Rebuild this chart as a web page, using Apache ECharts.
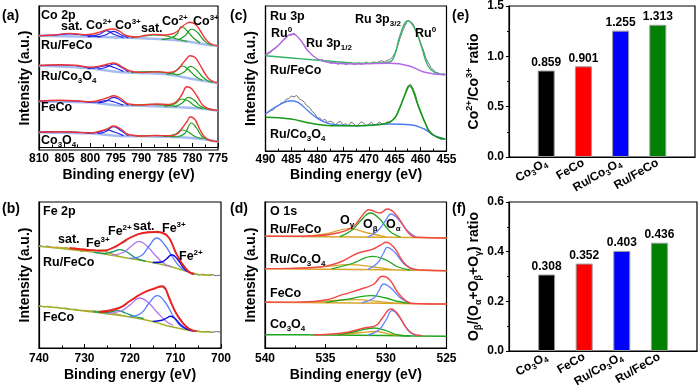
<!DOCTYPE html>
<html><head><meta charset="utf-8">
<script src="https://cdn.jsdelivr.net/npm/echarts/dist/echarts.min.js"></script>
<style>html,body{margin:0;padding:0;background:#fff}#c{width:700px;height:392px}</style>
</head><body><div id="c"></div>
<script>
// ---------- (a) Co 2p : [binding energy eV, intensity a.u.] ----------
const coBg1=[[810,111.3],[805,110.8],[800,110.3],[795,109.6],[790,108.7],[785,107.5],[781,105.5],[778,103],[776.5,101.7],[775,101]];
const coEnv1=[[810,111.3],[807,112],[804,113.6],[801,112.4],[799.5,113],[798,115.2],[796.5,117.5],[795.5,118],[794.3,115.8],[793,111.5],[791,110],[789,111.7],[787.5,112.6],[785.5,112],[784,113],[783,115.5],[782,120.5],[781,124],[780.5,124.7],[779.5,123],[778.5,116.5],[777.5,108.5],[776.5,103.5],[775,101.2]];
const coSatB1=[[810,111.3],[807,111.9],[804,113.2],[801,111.8],[798,110.2]];
const coB2_1=[[800.5,110.2],[798.3,112.5],[796.8,116.3],[795.3,112.5],[793.5,109.4]];
const coB3_1=[[798.5,110.1],[797,112],[795.4,115.7],[794,112.3],[792.5,109.1]];
const coSatG1=[[792,109.1],[789.5,111],[787.4,112],[785,111],[783,108],[781,105.5]];
const coG2_1=[[786,107.3],[784,109.5],[783,113],[782.1,120.3],[781,116],[780,110],[778.5,104]];
const coG3_1=[[783,106.8],[781.5,111],[780.1,118],[779,114.5],[778,108],[777,103.5],[776,101.8]];

const coBg2=[[810,81.3],[805,80.2],[800,78.7],[795,75.3],[790,74],[785,72.7],[780,68],[777,65.5],[775,63.7]];
const coEnv2=[[810,81.5],[806,82.2],[803,81.7],[800,79.8],[798,81],[796.5,83],[795.4,84],[794,81],[792.5,76.5],[790,74.5],[787,75.2],[784.5,74.5],[783,77],[782,83],[781,89],[780.5,91.3],[779.5,89.5],[778.5,82],[777.5,73],[776.5,67],[775,64]];
const coSatB2=[[810,81.3],[806,82],[803,81.5],[800,78.9]];
const coB2_2=[[800.5,78.4],[798.5,79.5],[796.8,81.3],[795.3,79.5],[793.5,75.6]];
const coB3_2=[[798.5,77.8],[797,79.5],[795.4,83],[794,80],[792.5,75]];
const coSatG2=[[792,74.4],[788,75.3],[785,74.2],[783,72.3]];
const coG2_2=[[785,72.7],[783.5,75],[782,81],[780.8,77.5],[779.5,71],[778,66.5]];
const coG3_2=[[783,71.8],[781.6,75],[780.4,80.7],[779.2,77],[778,70],[777,66.2],[776,64.5]];

const coBg3=[[810,45.7],[805,45.2],[800,44.7],[795,41.8],[790,41.3],[785,40.3],[780,39],[777,37.8],[775,36.3]];
const coEnv3=[[810,46],[806,46.7],[803,46.3],[800,45.2],[798,47],[796.5,49.5],[795.4,51.3],[794,48.5],[792.5,43],[790,42],[787,43],[784.5,42.5],[783,46],[782,53],[781.1,60.3],[780.2,58.5],[779,50],[778,42],[777,38.5],[775,36.5]];
const coSatB3=[[810,45.8],[806,46.5],[803,46],[800,44.8]];
const coB2_3=[[800.5,44.6],[798.5,45],[796.8,46.5],[795.3,45],[793.5,41.8]];
const coB3_3=[[798.5,44.2],[797,45.5],[795.4,49.7],[794,46.5],[792.5,41.6]];
const coSatG3=[[792,41.6],[788,42.7],[785,41.6],[783,40.6]];
const coG2_3=[[785.5,40.5],[783.5,43],[782.1,48],[780.8,46],[779.5,41],[778,38.2]];
const coG3_3=[[783.5,40],[782,44],[780.8,49.7],[779.7,47],[778.5,41],[777.2,38],[776,37]];

const coBg4=[[810,14.7],[805,14.2],[800,13.7],[795,11.3],[790,10.7],[785,10.3],[780,9],[777,7.3],[775,5.3]];
const coEnv4=[[810,14.8],[806,15.3],[803,14.8],[800,14],[798,16],[796.5,18.5],[795.4,21],[794,18],[792.5,12.5],[790,11],[787,11.5],[784.5,11.2],[783,13],[782,19],[781,26],[780.4,30.3],[779.5,27.5],[778.5,17],[777.5,9.5],[776.5,6.5],[775,5.5]];
const coSatB4=[[810,14.8],[806,15.3],[803,15],[800,13.8]];
const coB2_4=[[800.5,13.8],[798.5,14.6],[796.8,17],[795.3,15],[793.5,11.4]];
const coB3_4=[[798.5,13.5],[797,15.2],[795.4,20.3],[794,16.5],[792.5,11.1]];
const coSatG4=[[791,10.8],[787.5,11.5],[784.5,10.6],[783,10]];
const coG2_4=[[785.5,10.3],[783.5,12.5],[782,17],[780.8,15],[779.5,10.5],[778,8.3]];
const coG3_4=[[783,10.2],[781.5,13.5],[780.2,24],[779.2,19],[778.2,11],[777,7.4],[776,6]];

// ---------- (b) Fe 2p ----------
const feRaw1=[[740,102.5],[739,101.4],[738,101.9],[737,100.2],[736,100.8],[735,99.6],[734,100.3],[733,98.9],[732,99.8],[731,98.2],[730,98.9],[729,97.5],[728,98.3],[727,97.0],[726,97.8],[725,97.4],[724,99.9],[723,101.3],[722,104.2],[721,106.3],[720,110.4],[719,112.0],[718,114.1],[717,114.8],[716,116.2],[715,115.6],[714,116.9],[713,115.3],[712,114.0],[711,107.5],[710,96.5],[709,87.2],[708,81.8],[707,75.9],[706,74.3],[705,73.0],[704,73.8],[703,72.6],[702,73.4],[701,72.3],[700,73.0]];
const feBg1=[[740,101.7],[735,99.5],[730,97],[725,93.5],[720,89.5],[715,85.5],[711.4,81.7],[707.7,76.7],[705,73.5],[702,72.8]];
const feEnv1=[[733.3,100],[729.7,98.3],[726,97.3],[723.1,101.7],[720.1,110],[717.2,115],[714.3,116],[712.8,115],[711.4,110],[709.9,95],[708.4,83.3],[707,76],[705.9,74]];
const feSat1a=[[738,100.9],[735,100.3],[732.5,99.2],[730,97.2]];
const feOl1=[[731,96.8],[728.5,97.5],[726.5,97.8],[724.5,95],[722,91]];
const feG1=[[728,95.8],[725.5,94.5],[724,96],[722.2,98.3],[720.5,95.5],[718.7,90],[716.5,86.6]];
const feP1=[[724,92.9],[721.5,95.5],[719.8,101.5],[718,106.7],[716.3,102],[714.5,93],[712.5,84.5],[711,81.5]];
const feLB1=[[720,89.6],[717.5,92.5],[715.8,102],[714.1,110],[712.5,104],[710.8,92],[709,81],[707.5,76.5]];
const feDB1=[[715,85.5],[713,86],[712,89],[710.8,93.3],[709.6,89],[708.3,80.5],[707,75.5],[706,74]];

const feRaw2=[[740,42.3],[739,41.2],[738,41.7],[737,40.4],[736,40.8],[735,39.5],[734,39.9],[733,38.5],[732,38.8],[731,37.3],[730,37.7],[729,36.4],[728,37.0],[727,36.0],[726,36.7],[725,36.6],[724,38.3],[723,39.1],[722,41.3],[721,43.4],[720,47.1],[719,49.3],[718,52.8],[717,55.0],[716,57.6],[715,58.6],[714,60.7],[713,61.4],[712,57.8],[711,46.5],[710,35.6],[709,29.6],[708,23.3],[707,19.7],[706,17.2],[705,17.0],[704,16.1],[703,16.6],[702,15.7],[701,16.4],[700,15.9]];
const feBg2=[[740,41.7],[735,39.8],[730,37],[725,34.3],[720,31],[715,26.5],[711.4,21.7],[707.7,18.3],[705,16.5],[702,16]];
const feEnv2=[[726.8,36],[722.4,40],[720.1,46.7],[717.2,55],[714.3,60],[713,61.7],[712.3,60],[711.4,50],[709.9,35],[708.4,25],[707,19],[705.4,16.7]];
const feOl2=[[731,37.6],[728,36.8],[725.5,36.6],[723.5,34.5],[721,32]];
const feG2=[[728,36.3],[725.5,35.3],[724,36.3],[722.7,37.3],[721,35],[719,31.5],[717,29.5]];
const feP2=[[725,34.4],[722,37],[720,43],[717.9,50],[716,45.5],[714,35.5],[712,26.5],[710.5,22.5]];
const feLB2=[[720,31.2],[717.5,35],[715.8,45],[714,52.3],[712.3,46],[710.5,32],[709,22.5],[707.5,18.5]];
const feDB2=[[715,26.6],[713,27.8],[712,29.8],[711.1,31.7],[710,29],[708.8,23],[707.5,18.8],[706,17]];

// ---------- (c) Ru 3p ----------
const ruRaw1=[[490,95.5],[489.5,97.2],[489,98.4],[488.5,101.3],[488,102.6],[487.5,105.4],[487,107.8],[486.5,110.9],[486,112.9],[485.5,116.1],[485,115.6],[484.5,118.0],[484,115.4],[483.5,112.6],[483,109.6],[482.5,106.2],[482,101.8],[481.5,98.7],[481,95.6],[480.5,94.2],[480,91.8],[479.5,90.4],[479,91.6],[478.5,89.2],[478,89.9],[477.5,87.8],[477,88.9],[476.5,88.1],[476,86.6],[475.5,88.4],[475,87.9],[474.5,86.3],[474,87.5],[473.5,88.6],[473,86.4],[472.5,87.0],[472,88.3],[471.5,86.7],[471,87.2],[470.5,88.9],[470,87.1],[469.5,88.0],[469,89.2],[468.5,87.9],[468,89.4],[467.5,90.3],[467,88.8],[466.5,90.6],[466,91.3],[465.5,93.5],[465,97.8],[464.5,104.0],[464,112.5],[463.5,119.8],[463,125.5],[462.5,130.5],[462,129.3],[461.5,127.5],[461,121.0],[460.5,115.8],[460,108.0],[459.5,101.5],[459,93.0],[458.5,88.2],[458,83.5],[457.5,80.8],[457,78.4],[456.5,77.9],[456,76.5],[455.5,77.3],[455,75.8]];
const ruP1=[[490,96.5],[487.6,105.3],[485.7,115.3],[484.7,117],[483.4,112],[481.8,100.3],[479.9,92],[477.3,88],[472.1,87],[465.9,87.7],[462.4,85.3],[459.2,78.7],[455.3,76.3]];
const ruG1=[[490,95.3],[485,93],[481,91.2],[478.6,90.3],[475,88.7],[472.1,87.7],[468,88],[466,89],[465,96],[464,115.3],[462.4,130.3],[461.1,122],[459.8,103.7],[458.6,85.3],[457.3,78.7],[455.3,76.3]];
const ruRaw2=[[490,37.0],[489.5,38.6],[489,40.3],[488.5,41.2],[488,44.0],[487.5,45.3],[487,47.9],[486.5,48.6],[486,51.8],[485.5,52.4],[485,55.0],[484.5,54.1],[484,55.6],[483.5,52.3],[483,50.8],[482.5,48.9],[482,45.2],[481.5,43.8],[481,39.7],[480.5,37.6],[480,33.2],[479.5,33.0],[479,30.5],[478.5,31.8],[478,28.4],[477.5,29.9],[477,28.8],[476.5,26.1],[476,28.6],[475.5,29.7],[475,26.0],[474.5,27.4],[474,25.2],[473.5,28.9],[473,27.7],[472.5,24.8],[472,26.5],[471.5,29.2],[471,27.9],[470.5,25.3],[470,26.9],[469.5,28.7],[469,25.6],[468.5,26.8],[468,29.0],[467.5,27.2],[467,26.4],[466.5,29.3],[466,28.1],[465.5,30.4],[465,32.5],[464.5,38.0],[464,43.5],[463.5,50.2],[463,56.5],[462.5,62.0],[462,67.0],[461.5,63.0],[461,56.5],[460.5,46.0],[460,39.5],[459.5,31.5],[459,27.0],[458.5,21.0],[458,18.5],[457.5,16.0],[457,14.2],[456.5,13.0],[456,11.5],[455.5,12.6],[455,11.0]];
const ruB2=[[490,37],[487.6,45.3],[485.1,50.3],[483.7,48.7],[481.8,40.3],[479.2,30.3],[476.6,26.3],[472.1,25.3],[465.9,27],[462,26.3],[459.3,22],[457.3,15.3],[455.3,12]];
const ruG2=[[490,33.7],[485.1,32],[481.2,27.7],[477.3,25.3],[472.1,25.3],[467.2,27],[465.2,32],[464,43.7],[463,57],[462.2,65.3],[461.6,62],[460.6,47],[459.3,30.3],[458.2,18.7],[456.8,13.7],[455.3,12]];

// ---------- (d) O 1s ----------
const oBg1=[[540,111.7],[535,111.3],[530,110.8],[525,110]];
const oEnv1=[[540,111.7],[536,112],[534,115],[532.7,121.7],[532,131.7],[531.4,138.3],[530.5,135],[529.9,139],[529.3,135],[528.6,123.3],[528,113.3],[527.5,110.7],[525,110]];
const oGam1=[[537,111.5],[535,114],[533,119.3],[531.5,115],[530,111.2]];
const oBeta1=[[533.8,111.3],[532.8,118],[532,128.5],[531.3,135],[530.6,130],[530,121],[529.5,115],[528.8,111]];
const oAlp1=[[531.5,111],[530.7,117],[530,128],[529.6,134],[529,129],[528.3,118],[527.5,110.6]];
const oBg2=[[540,79.3],[535,78.8],[530,78.2],[525,77.3]];
const oEnv2=[[540,79.4],[538,79.6],[536,80.5],[534,85],[532.3,95],[531.2,98.3],[530.4,103.3],[530,105.7],[529.3,100],[528.7,88.3],[528,80],[527,78],[525,77.3]];
const oGam2=[[538,79.3],[535.5,80.8],[533,83.3],[531,81],[529.5,78.4]];
const oBeta2=[[534.5,79.2],[532.8,84.5],[531.1,91.7],[530,88],[529,81],[528,78]];
const oAlp2=[[531.5,78.6],[530.7,85],[530.2,95],[529.9,100.7],[529.3,96],[528.5,84],[527.7,78]];
const oBg3=[[540,45.7],[535,45.3],[530,44.7],[525,44]];
const oEnv3=[[540,45.8],[537,46],[535,48],[533.6,53.3],[531.8,60],[531,64],[530.3,71.7],[529.7,68.3],[529,55],[528.3,46.7],[527.7,44.5],[525,44]];
const oGam3=[[537,45.6],[534.5,47.3],[532.5,48.3],[530.5,46.3],[529,44.7]];
const oBeta3=[[535,45.6],[533,49.2],[531.3,52.3],[530,50],[529,46.5],[528,44.6]];
const oAlp3=[[532,45.2],[531,50],[530.6,57],[530.2,64],[529.6,60],[528.8,50],[528,45]];
const oBg4=[[540,13.3],[535,13],[530,12.4],[525,11.7]];
const oEnv4=[[536,13.2],[533.6,15],[531.8,20],[530.8,22.7],[530.3,30],[529.6,39],[529.1,35],[528.4,21.7],[527.9,15],[527,12.3]];
const oGam4=[[534,13],[532,15.5],[531,16.5],[529.5,13.5],[528.5,12.3]];
const oBeta4=[[534,13],[532.5,16.5],[531,20],[530,17.5],[529,13],[528,12]];
const oAlp4=[[531.5,12.8],[530.6,18],[530,28],[529.5,37.3],[528.9,31],[528.2,18],[527.5,12.3]];

// ---------- (e),(f) bars ----------
const barCats=['Co3O4','FeCo','Ru/Co3O4','Ru/FeCo'];
const coRatio=[0.859,0.901,1.255,1.313];
const oRatio=[0.308,0.352,0.403,0.436];
const barColors=['#000000','#ff0000','#0000ff','#008000'];
const coTicks=[0,0.5,1.0,1.5];
const oTicks=[0,0.2,0.4,0.6];

const F='"Liberation Sans", Arial, Helvetica, sans-serif';
function L(g,data,color,w,opt){return Object.assign({type:'line',xAxisIndex:g,yAxisIndex:g,data:data,smooth:0.45,symbol:'none',silent:true,lineStyle:{color:color,width:w},itemStyle:{color:color},z:2},opt||{});}
function R(g,data,color){return L(g,data,color,0.9,{smooth:false,z:1});}

const series=[];
// (a)
const A={bg:'#a7bdf0',r:'#f03535',g:'#1f9f1f',b:'#2424e6'};
[[coBg1,coSatB1,coB2_1,coB3_1,coSatG1,coG2_1,coG3_1,coEnv1],
 [coBg2,coSatB2,coB2_2,coB3_2,coSatG2,coG2_2,coG3_2,coEnv2],
 [coBg3,coSatB3,coB2_3,coB3_3,coSatG3,coG2_3,coG3_3,coEnv3],
 [coBg4,coSatB4,coB2_4,coB3_4,coSatG4,coG2_4,coG3_4,coEnv4]].forEach(s=>{
  series.push(L(0,s[0],A.bg,2.6,{smooth:0.3}));
  series.push(L(0,s[1],A.b,1.2));series.push(L(0,s[2],A.b,1.2));series.push(L(0,s[3],A.b,1.2));
  series.push(L(0,s[4],A.g,1.2));series.push(L(0,s[5],A.g,1.2));series.push(L(0,s[6],A.g,1.2));
  series.push(L(0,s[7],A.r,1.4,{z:3}));
});
// (b)
[[feRaw1,feBg1,feSat1a,feOl1,feG1,feP1,feLB1,feDB1,feEnv1],[feRaw2,feBg2,null,feOl2,feG2,feP2,feLB2,feDB2,feEnv2]].forEach(s=>{
  series.push(R(1,s[0],'#555555'));
  series.push(L(1,s[1],'#a4b32a',1.6,{smooth:0.3}));
  if(s[2]) series.push(L(1,s[2],'#c8a82a',1.2));
  series.push(L(1,s[3],'#b0a82a',1.2));
  series.push(L(1,s[4],'#14966a',1.3));
  series.push(L(1,s[5],'#b374f0',1.3));
  series.push(L(1,s[6],'#5a7cff',1.3));
  series.push(L(1,s[7],'#0a0adc',1.4));
  series.push(L(1,s[8],'#ee2020',1.9,{z:3}));
});
// (c)
series.push(R(2,ruRaw1,'#666666'));
series.push(L(2,ruG1,'#34b36c',1.4));
series.push(L(2,ruP1,'#b868e8',1.4));
series.push(R(2,ruRaw2,'#666666'));
series.push(L(2,ruB2,'#4f7ef5',1.4));
series.push(L(2,ruG2,'#169a18',1.6));
// (d)
[[oBg1,oGam1,oBeta1,oAlp1,oEnv1,'#d9a52a'],[oBg2,oGam2,oBeta2,oAlp2,oEnv2,'#d9a52a'],[oBg3,oGam3,oBeta3,oAlp3,oEnv3,'#d9a52a'],[oBg4,oGam4,oBeta4,oAlp4,oEnv4,'#1ea61e']].forEach(s=>{
  series.push(L(3,s[0],s[5],1.5,{smooth:0.2}));
  series.push(L(3,s[1],'#d9a52a',1.3));
  series.push(L(3,s[2],'#1ea61e',1.3));
  series.push(L(3,s[3],'#6484ff',1.3));
  series.push(L(3,s[4],'#f24848',1.4,{z:3}));
});
// (e),(f)
function bars(g,vals){
  return {type:'bar',xAxisIndex:g,yAxisIndex:g,barWidth:17,silent:true,
    data:vals.map((v,i)=>({value:[i+1,v],itemStyle:{color:barColors[i],borderColor:'#9a9a9a',borderWidth:1}})),
    label:{show:true,position:'top',distance:2,color:'#000',fontSize:12,fontWeight:'bold',fontFamily:F,formatter:p=>p.value[1].toFixed(3)}};
}
series.push(bars(4,coRatio));
series.push(bars(5,oRatio));

const richFmt=n=>n.replace(/(\d)/g,'{s|$1}');
function specX(g,min,max,interval,margin,gap){
  return {gridIndex:g,type:'value',inverse:true,min:min,max:max,interval:interval,
    axisLine:{show:true,lineStyle:{color:'#000',width:1.2}},
    axisTick:{show:true,inside:true,length:4,lineStyle:{color:'#000',width:1}},
    minorTick:{show:true,splitNumber:2,length:2.5,lineStyle:{color:'#000',width:1}},
    splitLine:{show:false},
    axisLabel:{color:'#000',fontSize:12,fontWeight:'bold',fontFamily:F,margin:margin},
    name:'Binding energy (eV)',nameLocation:'middle',nameGap:gap,
    nameTextStyle:{color:'#000',fontSize:14,fontWeight:'bold',fontFamily:F}};
}
function specY(g,min,max){
  return {gridIndex:g,type:'value',min:min,max:max,
    axisLine:{show:true,lineStyle:{color:'#000',width:1.2}},axisTick:{show:false},axisLabel:{show:false},splitLine:{show:false},
    name:'Intensity (a.u.)',nameLocation:'middle',nameGap:7,
    nameTextStyle:{color:'#000',fontSize:14,fontWeight:'bold',fontFamily:F}};
}
function barX(g){
  return {gridIndex:g,type:'value',min:0,max:5,interval:1,
    axisLine:{show:true,lineStyle:{color:'#000',width:1.2}},axisTick:{show:false},splitLine:{show:false},
    axisLabel:{rotate:30,margin:5,color:'#000',fontSize:12,fontWeight:'bold',fontFamily:F,lineHeight:15,
      formatter:v=>(v>=1&&v<=4)?richFmt(barCats[v-1]):'',
      rich:{s:{fontSize:8,fontWeight:'bold',fontFamily:F,color:'#000',verticalAlign:'bottom',lineHeight:8}}}};
}
function barY(g,ticks,name,rich){
  return {gridIndex:g,type:'value',min:ticks[0],max:ticks[ticks.length-1],interval:ticks[1]-ticks[0],
    axisLine:{show:true,lineStyle:{color:'#000',width:1.2}},
    axisTick:{show:true,inside:false,length:3,lineStyle:{color:'#000'}},
    minorTick:{show:true,splitNumber:2,length:2,lineStyle:{color:'#000'}},
    splitLine:{show:false},
    axisLabel:{color:'#000',fontSize:12,fontWeight:'bold',fontFamily:F,margin:5,formatter:v=>v.toFixed(1)},
    name:name,nameLocation:'middle',nameGap:24,
    nameTextStyle:{color:'#000',fontSize:14,fontWeight:'bold',fontFamily:F,lineHeight:18,rich:rich}};
}
const subR={s:{fontSize:9,fontWeight:'bold',fontFamily:F,color:'#000',verticalAlign:'bottom',lineHeight:9}};
const supR={p:{fontSize:9,fontWeight:'bold',fontFamily:F,color:'#000',verticalAlign:'top',lineHeight:9}};

const GR={p:{fontSize:8,fontWeight:'bold',fontFamily:F,fill:'#000',verticalAlign:'top',lineHeight:8},
          s:{fontSize:8,fontWeight:'bold',fontFamily:F,fill:'#000',verticalAlign:'bottom',lineHeight:8}};
function T(x,y,text,fs){return {type:'text',x:x,y:y,silent:true,z:100,
  style:{text:text,fontSize:fs||12.5,fontWeight:'bold',fontFamily:F,fill:'#000',lineHeight:16,align:'left',verticalAlign:'middle',rich:GR}};}
const texts=[
  T(2,16,'(a)',14),T(2,209,'(b)',14),T(230,16,'(c)',14),T(230,209,'(d)',14),T(452,16,'(e)',14),T(452,209,'(f)',14),
  T(41,16,'Co 2p'),T(61,27,'sat.'),T(86,26,'Co{p|2+}'),T(115,26,'Co{p|3+}'),T(141,29,'sat.'),T(162,22,'Co{p|2+}'),T(193,22,'Co{p|3+}'),
  T(41,46,'Ru/FeCo'),T(41,77,'Ru/Co{s|3}O{s|4}'),T(41,108,'FeCo'),T(41,141,'Co{s|3}O{s|4}'),
  T(43,212,'Fe 2p'),T(58,240,'sat.'),T(86,244,'Fe{p|3+}'),T(108,232,'Fe{p|2+}'),T(133,227,'sat.'),T(162,229,'Fe{p|3+}'),T(179,257,'Fe{p|2+}'),
  T(43,263,'Ru/FeCo'),T(43,318,'FeCo'),
  T(270,17,'Ru 3p'),T(271,34,'Ru{p|0}'),T(306,44,'Ru 3p{s|1/2}'),T(355,20,'Ru 3p{s|3/2}'),T(415,34,'Ru{p|0}'),
  T(270,71,'Ru/FeCo'),T(270,135,'Ru/Co{s|3}O{s|4}'),
  T(270,212,'O 1s'),T(340,221,'O{s|γ}'),T(363,225,'O{s|β}'),T(386,225,'O{s|α}'),
  T(270,230,'Ru/FeCo'),T(270,260,'Ru/Co{s|3}O{s|4}'),T(270,294,'FeCo'),T(270,325,'Co{s|3}O{s|4}')
];

const gb={show:true,borderColor:'#000',borderWidth:1.2,backgroundColor:'transparent'};
const option={
  animation:false,backgroundColor:'#fff',
  grid:[
    Object.assign({left:39,top:6,width:179,height:144},gb),
    Object.assign({left:39,top:202,width:182,height:146},gb),
    Object.assign({left:265.5,top:6,width:181,height:145},gb),
    Object.assign({left:265,top:202,width:181.5,height:146},gb),
    Object.assign({left:509,top:6,width:186,height:151},gb),
    Object.assign({left:509,top:202,width:188,height:149},gb)
  ],
  xAxis:[specX(0,775,810,5,3,18),specX(1,700,740,10,5,20),specX(2,455,490,5,3,17),specX(3,525,540,5,5,20),barX(4),barX(5)],
  yAxis:[specY(0,-3,141),specY(1,0,146),specY(2,0,145),specY(3,0,146),
    barY(4,coTicks,'Co{p|2+}/Co{p|3+} ratio',supR),
    barY(5,oTicks,'O{s|β}/(O{s|α}+O{s|β}+O{s|γ}) ratio',subR)],
  series:series,
  graphic:texts
};
const chart=echarts.init(document.getElementById('c'),null,{renderer:'canvas'});
chart.setOption(option);
</script></body></html>
